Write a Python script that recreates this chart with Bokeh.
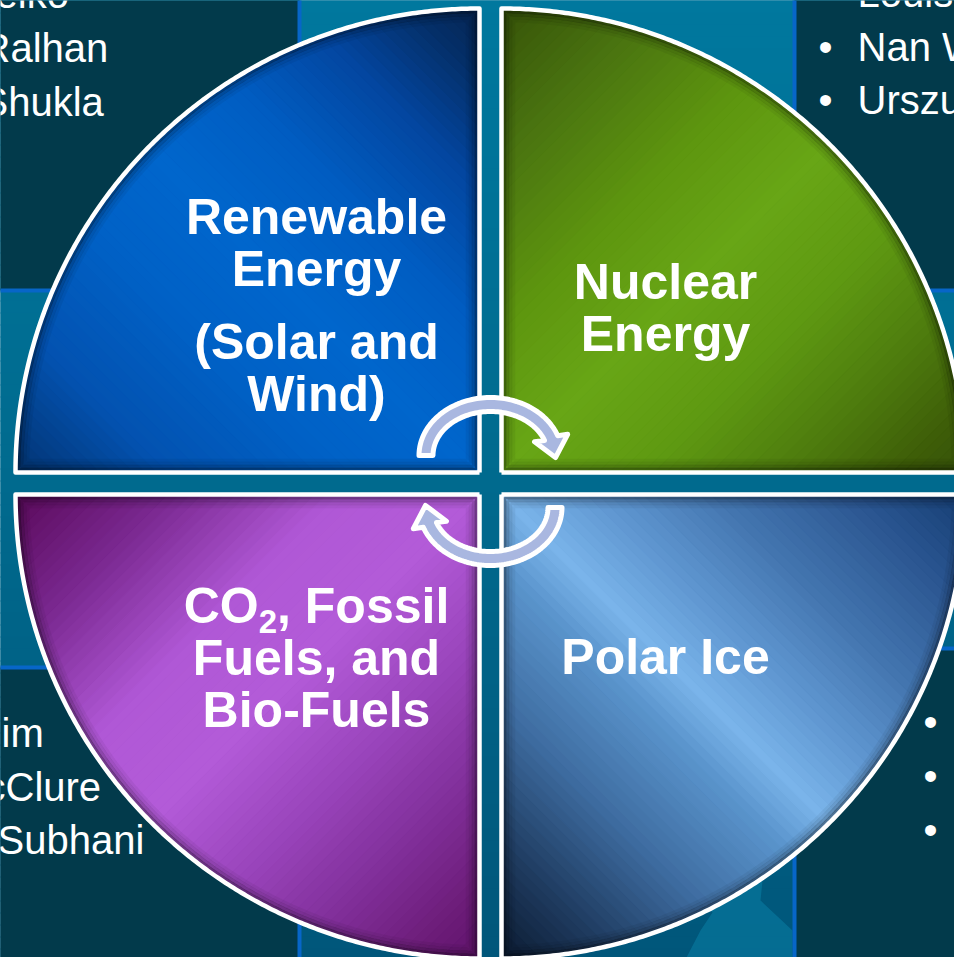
import numpy as np
from bokeh.plotting import figure
from bokeh.models import Range1d
from bokeh.core.properties import value
from bokeh.embed import file_html
from bokeh.resources import INLINE

# ---------------- data ----------------
tl_lines = ["Renewable", "Energy", "(Solar and", "Wind)"]
tr_lines = ["Nuclear", "Energy"]
bl_lines = ["Fuels, and", "Bio-Fuels"]
bl_first = ["CO", "2", ", Fossil"]
br_lines = ["Polar Ice"]

names_top_left = ["eiko", "Ralhan", "Shukla"]
names_top_right = ["Louis", "Nan W", "Urszu"]
names_bottom_left = ["im", "cClure", "Subhani"]
bullets_bottom_right = ["\u2022", "\u2022", "\u2022"]

# gradient stops per quadrant (signed distance from the bright diagonal, colour)
stops_tl = [(-340, "#03306a"), (-220, "#0352b0"), (-100, "#0061c6"), (0, "#0066cc"),
            (100, "#005dc2"), (200, "#0346a0"), (280, "#042f68"), (340, "#06224e")]
stops_tr = [(-340, "#344f08"), (-220, "#4a7410"), (-100, "#5e960f"), (0, "#68a616"),
            (100, "#5f9a12"), (200, "#4e7c0e"), (280, "#3e5e08"), (340, "#34500a")]
stops_bl = [(-340, "#560654"), (-220, "#7a2890"), (-100, "#b058d6"), (0, "#b35bd8"),
            (100, "#9a45bc"), (200, "#802e98"), (280, "#6c1c78"), (340, "#5e1068")]
stops_br = [(-340, "#08162a"), (-250, "#1e3a5e"), (-150, "#3e6ca0"), (-50, "#5a94cc"),
            (0, "#7ab4ea"), (60, "#629ad4"), (150, "#4476b0"), (250, "#2a5590"), (340, "#123a6e")]

# ---------------- layout constants ----------------
W, H = 954, 957
R = 464
corners = {"TL": (479, 472, -1, -1), "TR": (501, 472, 1, -1),
           "BL": (479, 494, -1, 1), "BR": (501, 494, 1, 1)}
axis_dir = {"TL": (1, -1), "BR": (1, -1), "TR": (1, 1), "BL": (1, 1)}
stops = {"TL": stops_tl, "TR": stops_tr, "BL": stops_bl, "BR": stops_br}

PANEL = "#023a4b"
PANEL_EDGE = "#0766c8"
panels = [(-20, 299, -20, 290), (794, 980, -20, 290), (-20, 299, 667, 980), (794, 980, 648, 980)]

FIX = 0.38  # empirical baseline correction (fraction of font size)


def base(ys, size):
    return [y - FIX * size for y in ys]


def hex2rgb(h):
    h = h.lstrip("#")
    return np.array([int(h[i:i + 2], 16) for i in (0, 2, 4)], dtype=float)


def rgb2hex(c):
    c = np.clip(np.round(c), 0, 255).astype(int)
    return "#%02x%02x%02x" % tuple(c)


def interp_color(st, s):
    xs = [a for a, _ in st]
    cols = np.array([hex2rgb(c) for _, c in st])
    return rgb2hex([np.interp(s, xs, cols[:, k]) for k in range(3)])


def clip_half(pts, f):
    out = []
    n = len(pts)
    for i in range(n):
        P, Q = pts[i], pts[(i + 1) % n]
        fp, fq = f(P), f(Q)
        if fp >= 0:
            out.append(P)
        if (fp >= 0) != (fq >= 0):
            t = fp / (fp - fq)
            out.append((P[0] + t * (Q[0] - P[0]), P[1] + t * (Q[1] - P[1])))
    return out


def quadrant_poly(key, r=R, k=0.0):
    cx, cy, sx, sy = corners[key]
    rr = r - k
    a0 = np.arcsin(min(k / rr, 1.0)) if k > 0 else 0.0
    th = np.linspace(a0, np.pi / 2 - a0, 240)
    pts = [(cx + sx * k, cy + sy * k)]
    pts += [(cx + sx * rr * np.cos(t), cy + sy * rr * np.sin(t)) for t in th]
    return pts


# ---------------- figure ----------------
p = figure(width=W, height=H, x_range=Range1d(0, W), y_range=Range1d(H, 0),
           output_backend="svg", toolbar_location=None, min_border=0)
p.axis.visible = False
p.grid.visible = False
p.outline_line_color = None
p.background_fill_color = "#006a8e"
p.border_fill_color = "#006a8e"

# teal background with a vertical gradient
strip = 12
y0s = np.arange(-12, 970, strip)
bg_cols = [interp_color([(0, "#00789e"), (480, "#006a8e"), (957, "#00567a")], y + strip / 2) for y in y0s]
p.quad(left=-20, right=980, top=y0s, bottom=y0s + strip + 1, fill_color=bg_cols, line_color=None)

# faint lighter decoration in the lower middle
deco_x = [686, 700, 712, 704, 722, 716, 736, 730, 748, 762, 760, 792, 792, 770, 742, 716]
deco_y = [957, 930, 912, 904, 893, 884, 876, 868, 866, 880, 900, 930, 957, 957, 957, 957]
p.patch(deco_x, deco_y, fill_color="#0a80a6", fill_alpha=0.55, line_color=None)

# dark text panels with blue frames
p.quad(left=[a[0] for a in panels], right=[a[1] for a in panels],
       top=[a[2] for a in panels], bottom=[a[3] for a in panels],
       fill_color=PANEL, line_color=PANEL_EDGE, line_width=4)

# names in the panels
name_font = value("Liberation Sans")
NS = 40
common = dict(text_color="white", text_font=name_font, text_font_size="40px", text_baseline="alphabetic")
p.text(x=[-5, -19, -19], y=base([9, 63, 117], NS), text=names_top_left, text_align="left", **common)
p.text(x=[857] * 3, y=base([8, 62, 115], NS), text=names_top_right, text_align="left", **common)
p.text(x=[825] * 3, y=base([8, 62, 115], NS), text=["\u2022"] * 3, text_align="center", **common)
p.text(x=[1, -15, -3], y=base([748, 802, 855], NS), text=names_bottom_left, text_align="left", **common)
p.text(x=[930] * 3, y=base([737, 791, 845], NS), text=bullets_bottom_right, text_align="center", **common)

# quadrants: gradient bands clipped to the quarter discs
xs_all, ys_all, cols_all = [], [], []
band = 8
for key in ["TL", "TR", "BL", "BR"]:
    cx, cy, sx, sy = corners[key]
    ux, uy = axis_dir[key]
    nrm = np.hypot(ux, uy)
    ux, uy = ux / nrm, uy / nrm
    poly = quadrant_poly(key)
    edges = np.arange(-340, 340, band)
    for a in edges:
        b = a + band
        sub = clip_half(poly, lambda P: (P[0] - cx) * ux + (P[1] - cy) * uy - a)
        if len(sub) < 3:
            continue
        sub = clip_half(sub, lambda P: b + 0.6 - ((P[0] - cx) * ux + (P[1] - cy) * uy))
        if len(sub) < 3:
            continue
        xs_all.append([q[0] for q in sub])
        ys_all.append([q[1] for q in sub])
        cols_all.append(interp_color(stops[key], a + band / 2))
p.patches(xs=xs_all, ys=ys_all, fill_color=cols_all, line_color=cols_all, line_width=0.8)

# inner shadow along quadrant edges
for k, alpha in [(3, 0.35), (6, 0.2), (9, 0.1), (12, 0.05)]:
    mx, my = [], []
    for key in ["TL", "TR", "BL", "BR"]:
        pts = quadrant_poly(key, k=k)
        pts.append(pts[0])
        mx.append([q[0] for q in pts])
        my.append([q[1] for q in pts])
    p.multi_line(xs=mx, ys=my, line_color="black", line_alpha=alpha, line_width=3.5)

# white outlines
ox, oy = [], []
for key in ["TL", "TR", "BL", "BR"]:
    pts = quadrant_poly(key)
    pts.append(pts[0])
    ox.append([q[0] for q in pts])
    oy.append([q[1] for q in pts])
p.multi_line(xs=ox, ys=oy, line_color="white", line_width=4.5, line_join="round")

# quadrant labels
BS = 50
bold = dict(text_color="white", text_font=value("Liberation Sans"), text_font_style="bold",
            text_baseline="alphabetic")
p.text(x=[316] * 4, y=base([235, 287, 360, 412], BS), text=tl_lines, text_font_size="50px", text_align="center", **bold)
p.text(x=[665] * 2, y=base([300, 352], BS), text=tr_lines, text_font_size="50px", text_align="center", **bold)
p.text(x=[316] * 2, y=base([676, 728], BS), text=bl_lines, text_font_size="50px", text_align="center", **bold)
p.text(x=[665], y=base([675], BS), text=br_lines, text_font_size="50px", text_align="center", **bold)
# CO2 line with subscript
w_co, w_2, w_rest = 0.722 * 50 + 0.778 * 50, 0.556 * 33, 3.446 * 50
x_start = 316 - (w_co + w_2 + w_rest) / 2
p.text(x=[x_start], y=base([624], BS), text=[bl_first[0]], text_font_size="50px", text_align="left", **bold)
p.text(x=[x_start + w_co], y=base([634], 33), text=[bl_first[1]], text_font_size="33px", text_align="left", **bold)
p.text(x=[x_start + w_co + w_2], y=base([624], BS), text=[bl_first[2]], text_font_size="50px", text_align="left", **bold)

# circular arrows in the centre
ecx, ecy = 490, 455
rx, ry, half = 64.5, 51.0, 7.0
t_end = np.radians(20)
ts = np.linspace(np.pi, t_end, 80)
outer = [(ecx + (rx + half) * np.cos(t), ecy - (ry + half) * np.sin(t)) for t in ts]
inner = [(ecx + (rx - half) * np.cos(t), ecy - (ry - half) * np.sin(t)) for t in ts[::-1]]
B = np.array([ecx + rx * np.cos(t_end), ecy - ry * np.sin(t_end)])
tip_dir = np.array([0.22, 0.975])
tip_dir /= np.linalg.norm(tip_dir)
perp = np.array([tip_dir[1], -tip_dir[0]])
wing_half = 17.0
head = [tuple(B + wing_half * perp), tuple(B + 20 * tip_dir), tuple(B - wing_half * perp)]
arrow = outer + head + inner
ax1 = [q[0] for q in arrow]
ay1 = [q[1] for q in arrow]
rot_cx, rot_cy = 490, 481
ax2 = [2 * rot_cx - x for x in ax1]
ay2 = [2 * rot_cy - y for y in ay1]
p.patches(xs=[ax1, ax2], ys=[ay1, ay2], fill_color="#a9b7e0", line_color="white",
          line_width=5, line_join="round")

open("out.html", "w").write(file_html(p, INLINE))
